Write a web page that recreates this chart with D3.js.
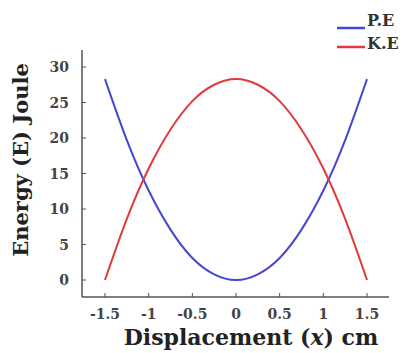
<!DOCTYPE html>
<html>
<head>
<meta charset="utf-8">
<title>Energy vs Displacement</title>
<script src="https://cdn.jsdelivr.net/npm/d3@7"></script>
<style>
  body { margin: 0; background: #fff; }
  text { font-family: "DejaVu Serif", serif; font-weight: bold; }
</style>
</head>
<body>
<div id="chart"></div>
<script>
// displacement samples (cm)
const displacement = [-1.5, -1.25, -1, -0.75, -0.5, -0.25, 0, 0.25, 0.5, 0.75, 1, 1.25, 1.5];
// potential energy
const peValues = [28.3, 19.7, 12.6, 7.1, 3.1, 0.8, 0, 0.8, 3.1, 7.1, 12.6, 19.7, 28.3];
// kinetic energy
const keValues = [0, 8.6, 15.7, 21.2, 25.2, 27.5, 28.3, 27.5, 25.2, 21.2, 15.7, 8.6, 0];
const xTicks = [-1.5, -1, -0.5, 0, 0.5, 1, 1.5];
const yTicks = [0, 5, 10, 15, 20, 25, 30];
const seriesNames = ["P.E", "K.E"];
const seriesColors = ["#4646d2", "#e03a3a"];

const w = 418, h = 353;
const svg = d3.select("#chart").append("svg")
  .attr("width", w).attr("height", h);

const x = d3.scaleLinear().domain([-1.5, 1.5]).range([105, 367]);
const y = d3.scaleLinear().domain([0, 30]).range([280, 67]);

// axis lines
svg.append("line").attr("x1", 82).attr("x2", 82).attr("y1", 50).attr("y2", 297)
  .attr("stroke", "#555").attr("stroke-width", 1.5);
svg.append("line").attr("x1", 82).attr("x2", 389).attr("y1", 297).attr("y2", 297)
  .attr("stroke", "#555").attr("stroke-width", 1.5);

// y ticks
let yAxis = svg.append("g");
yAxis.selectAll("line").data(yTicks).enter().append("line")
  .attr("x1", 82).attr("x2", 86)
  .attr("y1", d => y(d)).attr("y2", d => y(d))
  .attr("stroke", "#555");
yAxis.selectAll("text").data(yTicks).enter().append("text")
  .attr("x", 69).attr("y", d => y(d) + 5)
  .attr("text-anchor", "end")
  .style("font-size", "14px").attr("fill", "#444")
  .text(d => d);

// x ticks
let xAxis = svg.append("g");
xAxis.selectAll("line").data(xTicks).enter().append("line")
  .attr("x1", d => x(d)).attr("x2", d => x(d))
  .attr("y1", 297).attr("y2", 293)
  .attr("stroke", "#555");
xAxis.selectAll("text").data(xTicks).enter().append("text")
  .attr("x", d => x(d)).attr("y", 319)
  .attr("text-anchor", "middle")
  .style("font-size", "14px").attr("fill", "#444")
  .text(d => d);

// curves
const line = d3.line()
  .x(d => x(d[0])).y(d => y(d[1]))
  .curve(d3.curveNatural);

[peValues, keValues].forEach(function(vals, i) {
  svg.append("path")
    .datum(displacement.map((d, j) => [d, vals[j]]))
    .attr("d", line)
    .attr("fill", "none")
    .attr("stroke", seriesColors[i])
    .attr("stroke-width", 2);
});

// legend
seriesNames.forEach(function(name, i) {
  let ly = 28 + i * 19;
  svg.append("line").attr("x1", 337).attr("x2", 365)
    .attr("y1", ly).attr("y2", ly)
    .attr("stroke", seriesColors[i]).attr("stroke-width", 2.5);
  svg.append("text").attr("x", 367).attr("y", ly - 2 + i * 4)
    .style("font-size", "16px").attr("fill", "#333")
    .text(name);
});

// axis titles
const xt = svg.append("text")
  .attr("x", 251).attr("y", 345)
  .attr("text-anchor", "middle")
  .style("font-size", "22px").attr("fill", "#222");
xt.append("tspan").text("Displacement (");
xt.append("tspan").style("font-style", "italic").text("x");
xt.append("tspan").text(") cm");

svg.append("text")
  .attr("transform", "translate(28,160) rotate(-90)")
  .attr("text-anchor", "middle")
  .style("font-size", "21px").attr("fill", "#222")
  .text("Energy (E) Joule");
</script>
</body>
</html>
